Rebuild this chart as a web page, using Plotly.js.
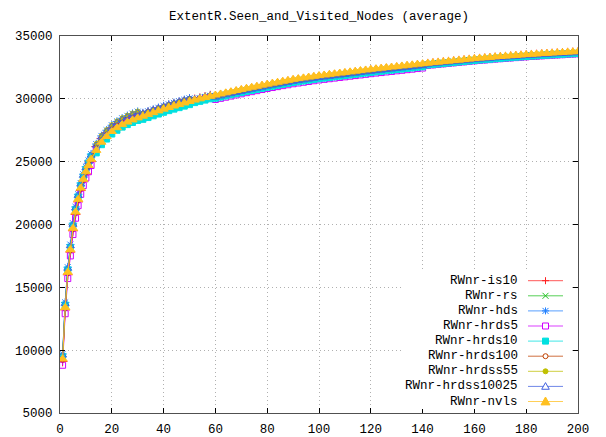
<!DOCTYPE html>
<html>
<head>
<meta charset="utf-8">
<script src="https://cdn.plot.ly/plotly-3.0.1.min.js"></script>
<style>
  html, body { margin: 0; padding: 0; background: #ffffff; }
  #chart { width: 606px; height: 437px; }
</style>
</head>
<body>
<div id="chart"></div>
<script>
// Average number of seen and visited nodes per step, one series per walker strategy.
const chartTitle = 'ExtentR.Seen_and_Visited_Nodes (average)';
const seriesNames = ['RWnr-is10', 'RWnr-rs', 'RWnr-hds', 'RWnr-hrds5', 'RWnr-hrds10',
                     'RWnr-hrds100', 'RWnr-hrdss55', 'RWnr-hrdss10025', 'RWnr-nvls'];

const xTickVals = [0, 20, 40, 60, 80, 100, 120, 140, 160, 180, 200];
const xTickLabels = ['0', '20', '40', '60', '80', '100', '120', '140', '160', '180', '200'];
const yTickVals = [5000, 10000, 15000, 20000, 25000, 30000, 35000];
const yTickLabels = ['5000', '10000', '15000', '20000', '25000', '30000', '35000'];

const steps = [1,2,3,4,5,6,7,8,9,10,11,12,14,16,18,20,22,24,26,28,30,32,34,36,38,40,42,44,46,48,50,52,54,56,58,60,
  62,64,66,68,70,72,74,76,78,80,82,84,86,88,90,92,94,96,98,100,102,104,106,108,110,112,114,116,118,120,
  122,124,126,128,130,132,134,136,138,140,142,144,146,148,150,152,154,156,158,160,162,164,166,168,170,
  172,174,176,178,180,182,184,186,188,190,192,194,196,198,200];

const is10 = [9100,13200,16000,17800,19500,20800,21800,22700,23400,24000,24500,25000,
  26200,26850,27300,27700,28000,28250,28450,28620,28780,
  28770,28910,29050,29190,29330,29460,29580,29700,29820,29940,
  29950,30050,30150,30250,
  30200,30290,30380,30470,30560,30650,30740,30820,30900,30990,31070,31150,31220,31300,31370,31450,31510,31570,31630,31690,31750,31800,31850,31900,31950,32000,32050,32100,32150,32200,32250,32300,32340,32390,32430,32480,32520,32570,32610,32660,32700,
  32790,32830,32870,32910,32950,32990,33030,33070,33110,33150,33190,33220,33250,33290,33320,33350,33380,33410,33440,33470,33500,33520,33550,33570,33600,33620,33640,33670,33690,33710];

const rs = [9400,13500,16300,18100,19800,21100,22100,23000,23700,24300,24800,25300,
  26050,26700,27150,27550,27850,28100,28300,28470,28630,
  28670,28810,28950,29090,29230,29360,29480,29600,29720,29840,
  29900,30000,30100,30200,
  30150,30240,30330,30420,30510,30600,30690,30770,30850,30940,31020,31100,31170,31250,31320,31400,31460,31520,31580,31640,31700,31750,31800,31850,31900,31950,32000,32050,32100,32150,32200,32250,32290,32340,32380,32430,32470,32520,32560,32610,32650,
  32760,32800,32840,32880,32920,32960,33000,33040,33080,33120,33160,33190,33220,33260,33290,33320,33350,33380,33410,33440,33470,33490,33520,33540,33570,33590,33610,33640,33660,33680];

const hds = [9700,13800,16600,18400,20100,21400,22400,23300,24000,24600,25100,25600,
  26400,27050,27500,27900,28200,28450,28650,28820,28980,
  28870,29010,29150,29290,29430,29560,29680,29800,29920,30040,
  29950,30050,30150,30250,
  30100,30190,30280,30370,30460,30550,30640,30720,30800,30890,30970,31050,31120,31200,31270,31350,31410,31470,31530,31590,31650,31700,31750,31800,31850,31900,31950,32000,32050,32100,32150,32200,32240,32290,32330,32380,32420,32470,32510,32560,32600,
  32720,32760,32800,32840,32880,32920,32960,33000,33040,33080,33120,33150,33180,33220,33250,33280,33310,33340,33370,33400,33430,33450,33480,33500,33530,33550,33570,33600,33620,33640];

const hrds5 = [8800,12900,15700,17500,19200,20500,21500,22400,23100,23700,24200,24700,
  25950,26600,27050,27450,27750,28000,28200,28370,28530,
  28620,28760,28900,29040,29180,29310,29430,29550,29670,29790,
  29800,29900,30000,30100,
  29950,30040,30130,30220,30310,30400,30490,30570,30650,30740,30820,30900,30970,31050,31120,31200,31260,31320,31380,31440,31500,31550,31600,31650,31700,31750,31800,31850,31900,31950,32000,32050,32090,32140,32180,32230,32270,32320,32360,32410,32450,
  32660,32700,32740,32780,32820,32860,32900,32940,32980,33020,33060,33090,33120,33160,33190,33220,33250,33280,33310,33340,33370,33390,33420,33440,33470,33490,33510,33540,33560,33580];

const hrds10 = [9500,13600,16400,18200,19900,21200,22200,23100,23800,24400,24900,25400,
  25700,26350,26800,27200,27500,27750,27950,28120,28280,
  28370,28510,28650,28790,28930,29060,29180,29300,29420,29540,
  29700,29800,29900,30000,
  30050,30140,30230,30320,30410,30500,30590,30670,30750,30840,30920,31000,31070,31150,31220,31300,31360,31420,31480,31540,31600,31650,31700,31750,31800,31850,31900,31950,32000,32050,32100,32150,32190,32240,32280,32330,32370,32420,32460,32510,32550,
  32690,32730,32770,32810,32850,32890,32930,32970,33010,33050,33090,33120,33150,33190,33220,33250,33280,33310,33340,33370,33400,33420,33450,33470,33500,33520,33540,33570,33590,33610];

const hrds100 = [9200,13300,16100,17900,19600,20900,21900,22800,23500,24100,24600,25100,
  26350,27000,27450,27850,28150,28400,28600,28770,28930,
  28870,29010,29150,29290,29430,29560,29680,29800,29920,30040,
  30000,30100,30200,30300,
  30180,30270,30360,30450,30540,30630,30720,30800,30880,30970,31050,31130,31200,31280,31350,31430,31490,31550,31610,31670,31730,31780,31830,31880,31930,31980,32030,32080,32130,32180,32230,32280,32320,32370,32410,32460,32500,32550,32590,32640,32680,
  32780,32820,32860,32900,32940,32980,33020,33060,33100,33140,33180,33210,33240,33280,33310,33340,33370,33400,33430,33460,33490,33510,33540,33560,33590,33610,33630,33660,33680,33700];

const hrdss55 = [9350,13450,16250,18050,19700,21000,22050,22950,23650,24250,24750,25250,
  26450,27100,27550,27950,28250,28500,28700,28870,29030,
  28840,28980,29120,29260,29400,29530,29650,29770,29890,30010,
  29950,30050,30150,30250,
  30220,30310,30400,30490,30580,30670,30760,30840,30920,31010,31090,31170,31240,31320,31390,31470,31530,31590,31650,31710,31770,31820,31870,31920,31970,32020,32070,32120,32170,32220,32270,32320,32360,32410,32450,32500,32540,32590,32630,32680,32720,
  32800,32840,32880,32920,32960,33000,33040,33080,33120,33160,33200,33230,33260,33300,33330,33360,33390,33420,33450,33480,33510,33530,33560,33580,33610,33630,33650,33680,33700,33720];

const hrdss10025 = [9600,13700,16500,18300,20000,21300,22300,23200,23900,24500,25000,25500,
  26300,26950,27400,27800,28100,28350,28550,28720,28880,
  28820,28960,29100,29240,29380,29510,29630,29750,29870,29990,
  29950,30050,30150,30250,
  30120,30210,30300,30390,30480,30570,30660,30740,30820,30910,30990,31070,31140,31220,31290,31370,31430,31490,31550,31610,31670,31720,31770,31820,31870,31920,31970,32020,32070,32120,32170,32220,32260,32310,32350,32400,32440,32490,32530,32580,32620,
  32740,32780,32820,32860,32900,32940,32980,33020,33060,33100,33140,33170,33200,33240,33270,33300,33330,33360,33390,33420,33450,33470,33500,33520,33550,33570,33590,33620,33640,33660];

const nvls = [9300,13400,16200,18000,19700,21000,22000,22900,23600,24200,24700,25200,
  25900,26550,27000,27400,27700,27950,28150,28320,28480,
  28620,28760,28900,29040,29180,29310,29430,29550,29670,29790,
  29900,30000,30100,30200,
  30300,30390,30480,30570,30660,30750,30840,30920,31000,31090,31170,31250,31320,31400,31470,31550,31610,31670,31730,31790,31850,31900,31950,32000,32050,32100,32150,32200,32250,32300,32350,32400,32440,32490,32530,32580,32620,32670,32710,32760,32800,
  32840,32880,32920,32960,33000,33040,33080,33120,33160,33200,33240,33270,33300,33340,33370,33400,33430,33460,33490,33520,33550,33570,33600,33620,33650,33670,33690,33720,33740,33760];

const seriesValues = [is10, rs, hds, hrds5, hrds10, hrds100, hrdss55, hrdss10025, nvls];

// gnuplot-like palette and point types
const colors  = ['#ff2020', '#20c020', '#2080ff', '#d000ff', '#00e0e0', '#c04000', '#c0c000', '#4060e0', '#ffc020'];
const symbols = ['cross-thin-open', 'x-thin-open', 'asterisk-open', 'square-open', 'square',
                 'circle-open', 'circle', 'triangle-up-open', 'triangle-up'];
const sizes   = [7, 6, 7, 6, 6, 4, 4, 7, 8];
const keyKinds = ['plus', 'cross', 'star', 'sqOpen', 'sqFill', 'circOpen', 'circFill', 'triOpen', 'triFill'];

const traces = seriesNames.map((name, i) => ({
  type: 'scatter',
  mode: 'lines+markers',
  name: name,
  x: steps,
  y: seriesValues[i],
  line: { color: colors[i], width: 1 },
  marker: {
    symbol: symbols[i],
    size: sizes[i],
    color: colors[i],
    line: { color: colors[i], width: 1 }
  },
  hoverinfo: 'x+y+name'
}));

// Plot-area geometry (pixels) used to place the key in paper units
const W = 606, H = 437;
const M = { l: 60, r: 28, t: 36, b: 24 };
const pw = W - M.l - M.r, ph = H - M.t - M.b;
const px = v => (v - M.l) / pw;
const py = v => (H - M.b - v) / ph;

const font = '"Liberation Mono", "DejaVu Sans Mono", monospace';
const shapes = [];
const annotations = [];

// opaque key background that hides the grid behind it
shapes.push({ type: 'rect', xref: 'paper', yref: 'paper', layer: 'above',
  x0: px(404), x1: px(570), y0: py(272), y1: py(409),
  fillcolor: '#ffffff', line: { width: 0 } });

function seg(x0, y0, x1, y1, color) {
  return { type: 'line', xref: 'paper', yref: 'paper', layer: 'above',
    x0: px(x0), y0: py(y0), x1: px(x1), y1: py(y1), line: { color: color, width: 1 } };
}

function keySymbol(kind, cx, cy, color) {
  const out = [];
  const h = 3.5;
  if (kind === 'plus' || kind === 'star') {
    out.push(seg(cx - h, cy, cx + h, cy, color));
    out.push(seg(cx, cy - h, cx, cy + h, color));
  }
  if (kind === 'cross' || kind === 'star') {
    out.push(seg(cx - h + 0.5, cy - h + 0.5, cx + h - 0.5, cy + h - 0.5, color));
    out.push(seg(cx - h + 0.5, cy + h - 0.5, cx + h - 0.5, cy - h + 0.5, color));
  }
  if (kind === 'sqOpen' || kind === 'sqFill') {
    out.push({ type: 'rect', xref: 'paper', yref: 'paper', layer: 'above',
      x0: px(cx - 3), x1: px(cx + 3), y0: py(cy + 3), y1: py(cy - 3),
      fillcolor: kind === 'sqFill' ? color : '#ffffff', line: { color: color, width: 1 } });
  }
  if (kind === 'circOpen' || kind === 'circFill') {
    out.push({ type: 'circle', xref: 'paper', yref: 'paper', layer: 'above',
      x0: px(cx - 2.5), x1: px(cx + 2.5), y0: py(cy + 2.5), y1: py(cy - 2.5),
      fillcolor: kind === 'circFill' ? color : '#ffffff', line: { color: color, width: 1 } });
  }
  if (kind === 'triOpen' || kind === 'triFill') {
    const s = kind === 'triFill' ? 4.5 : 3.8;
    const p = `M ${px(cx - s)},${py(cy + s * 0.75)} L ${px(cx + s)},${py(cy + s * 0.75)} L ${px(cx)},${py(cy - s)} Z`;
    out.push({ type: 'path', xref: 'paper', yref: 'paper', layer: 'above', path: p,
      fillcolor: kind === 'triFill' ? color : '#ffffff', line: { color: color, width: 1 } });
  }
  return out;
}

seriesNames.forEach((name, i) => {
  const rowY = 280.7 + i * 15.1;
  annotations.push({
    xref: 'paper', yref: 'paper', x: px(520), y: py(rowY),
    xanchor: 'right', yanchor: 'middle', showarrow: false,
    text: name, font: { family: font, size: 12.5, color: '#000000' }
  });
  const lineSeg = seg(528, rowY, 563, rowY, colors[i]);
  lineSeg.opacity = 0.75;
  shapes.push(lineSeg);
  keySymbol(keyKinds[i], 545.5, rowY, colors[i]).forEach(s => shapes.push(s));
});

const axisBase = {
  showgrid: true,
  gridcolor: '#b0b0b0',
  griddash: '1px,3px',
  gridwidth: 1,
  zeroline: false,
  showline: true,
  linecolor: '#505050',
  linewidth: 1,
  mirror: 'allticks',
  ticks: 'inside',
  ticklen: 5,
  tickcolor: '#000000',
  tickfont: { family: font, size: 12.5, color: '#000000' }
};

const layout = {
  width: W,
  height: H,
  margin: M,
  paper_bgcolor: '#ffffff',
  plot_bgcolor: '#ffffff',
  showlegend: false,
  font: { family: font, size: 12.5, color: '#000000' },
  title: {
    text: chartTitle,
    x: 0.5, xref: 'paper', xanchor: 'center',
    y: 1 - 16 / H, yref: 'container', yanchor: 'middle',
    font: { family: font, size: 12.5, color: '#000000' }
  },
  xaxis: Object.assign({}, axisBase, {
    range: [0, 200],
    tickmode: 'array', tickvals: xTickVals, ticktext: xTickLabels,
    ticklabelstandoff: 4
  }),
  yaxis: Object.assign({}, axisBase, {
    range: [5000, 35000],
    tickmode: 'array', tickvals: yTickVals, ticktext: yTickLabels,
    ticklabelstandoff: 4
  }),
  shapes: shapes,
  annotations: annotations
};

Plotly.newPlot('chart', traces, layout, { staticPlot: true, displayModeBar: false });
</script>
</body>
</html>
